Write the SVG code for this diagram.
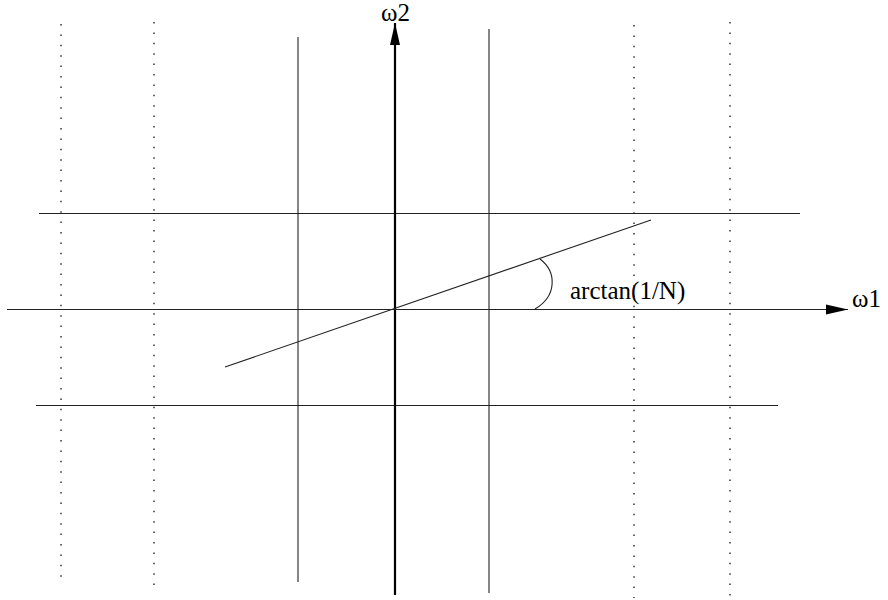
<svg xmlns="http://www.w3.org/2000/svg" width="888" height="600" viewBox="0 0 888 600">
<style>
.thin{stroke:#222;stroke-width:1.1;fill:none}
.dot{stroke:#000;stroke-width:1.2;stroke-dasharray:1.5 8.9;fill:none}
.axis{stroke:#000;stroke-width:2.2;fill:none}
text{font-family:"Liberation Serif",serif;font-size:25px;fill:#000}
</style>
<defs>
<marker id="ah" markerWidth="22" markerHeight="12" viewBox="0 0 22 12" refX="22" refY="6" orient="auto" markerUnits="userSpaceOnUse">
<path d="M0,1 L22,6 L0,11 Z" fill="#000"/>
</marker>
</defs>
<g id="grid">
<line class="dot" x1="61" y1="24" x2="61" y2="580"/>
<line class="dot" x1="154" y1="22" x2="154" y2="586"/>
<line class="dot" x1="634" y1="25" x2="634" y2="598"/>
<line class="dot" x1="730" y1="22" x2="730" y2="596"/>
<line class="thin" x1="298" y1="37" x2="298" y2="582"/>
<line class="thin" x1="489" y1="29" x2="489" y2="593"/>
<line class="thin" x1="39" y1="213.5" x2="800" y2="213.5"/>
<line class="thin" x1="36" y1="405.5" x2="778" y2="405.5"/>
</g>
<g id="connectors">
<line class="axis" x1="395" y1="595" x2="395" y2="23" marker-end="url(#ah)"/>
<line class="thin" x1="7" y1="309.5" x2="848" y2="309.5" marker-end="url(#ah)"/>
<line class="thin" x1="225" y1="367" x2="651" y2="220"/>
<path class="thin" d="M540,259 C557,272 557,296 535,309"/>
</g>
<g id="labels">
<text x="381" y="21">ω2</text>
<text x="852" y="307">ω1</text>
<text x="570" y="299">arctan(1/N)</text>
</g>
</svg>
